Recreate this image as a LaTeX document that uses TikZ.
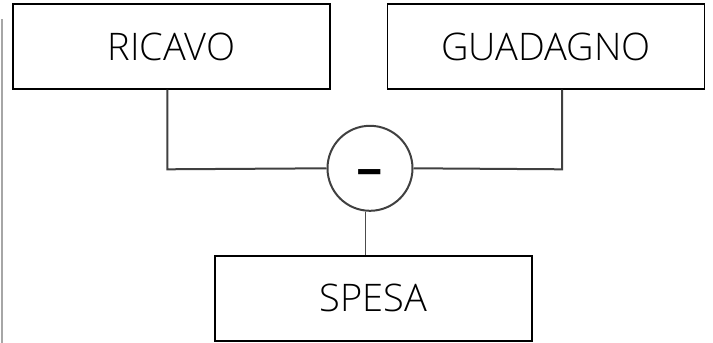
\documentclass[tikz,border=0pt]{standalone}
\usepackage{fontspec}
\setmainfont{Open Sans}[UprightFont=* Light,BoldFont=* Bold]
\begin{document}
\begin{tikzpicture}[x=1pt,y=-1pt,
  box/.style={draw=black,line width=1.4pt,minimum width=317pt,minimum height=85pt,inner sep=0pt,anchor=center,font=\fontsize{38}{44}\selectfont},
  conn/.style={draw=black!75,line width=2pt},
  thin/.style={draw=black!70,line width=1pt}]
\useasboundingbox (0,0) rectangle (713,343);
\draw[draw=black!35,line width=2pt] (1.5,19) -- (1.5,343);
\node[box] (ricavo) at (171.5,46.5) {RICAVO};
\node[box] (guadagno) at (546,46.5) {GUADAGNO};
\node[box] (spesa) at (373.5,298.3) {SPESA};
\node[circle,draw=black!75,line width=2pt,minimum size=85pt,inner sep=0pt] (minus) at (370,168.3) {};
\node[font=\fontsize{46}{50}\bfseries,inner sep=0pt] (sign) at ([yshift=-8.8pt]minus.center) {\scalebox{1.15}[1]{–}};
\coordinate (ra) at (167.3,169.3);
\coordinate (ga) at (562,169.3);
\draw[conn] (ricavo.south -| ra) -- (ra) -- (minus.west);
\draw[conn] (guadagno.south -| ga) -- (ga) -- (minus.east);
\coordinate (sb) at (365,0);
\draw[thin] (minus.south -| sb) -- (spesa.north -| sb);
\end{tikzpicture}
\end{document}
